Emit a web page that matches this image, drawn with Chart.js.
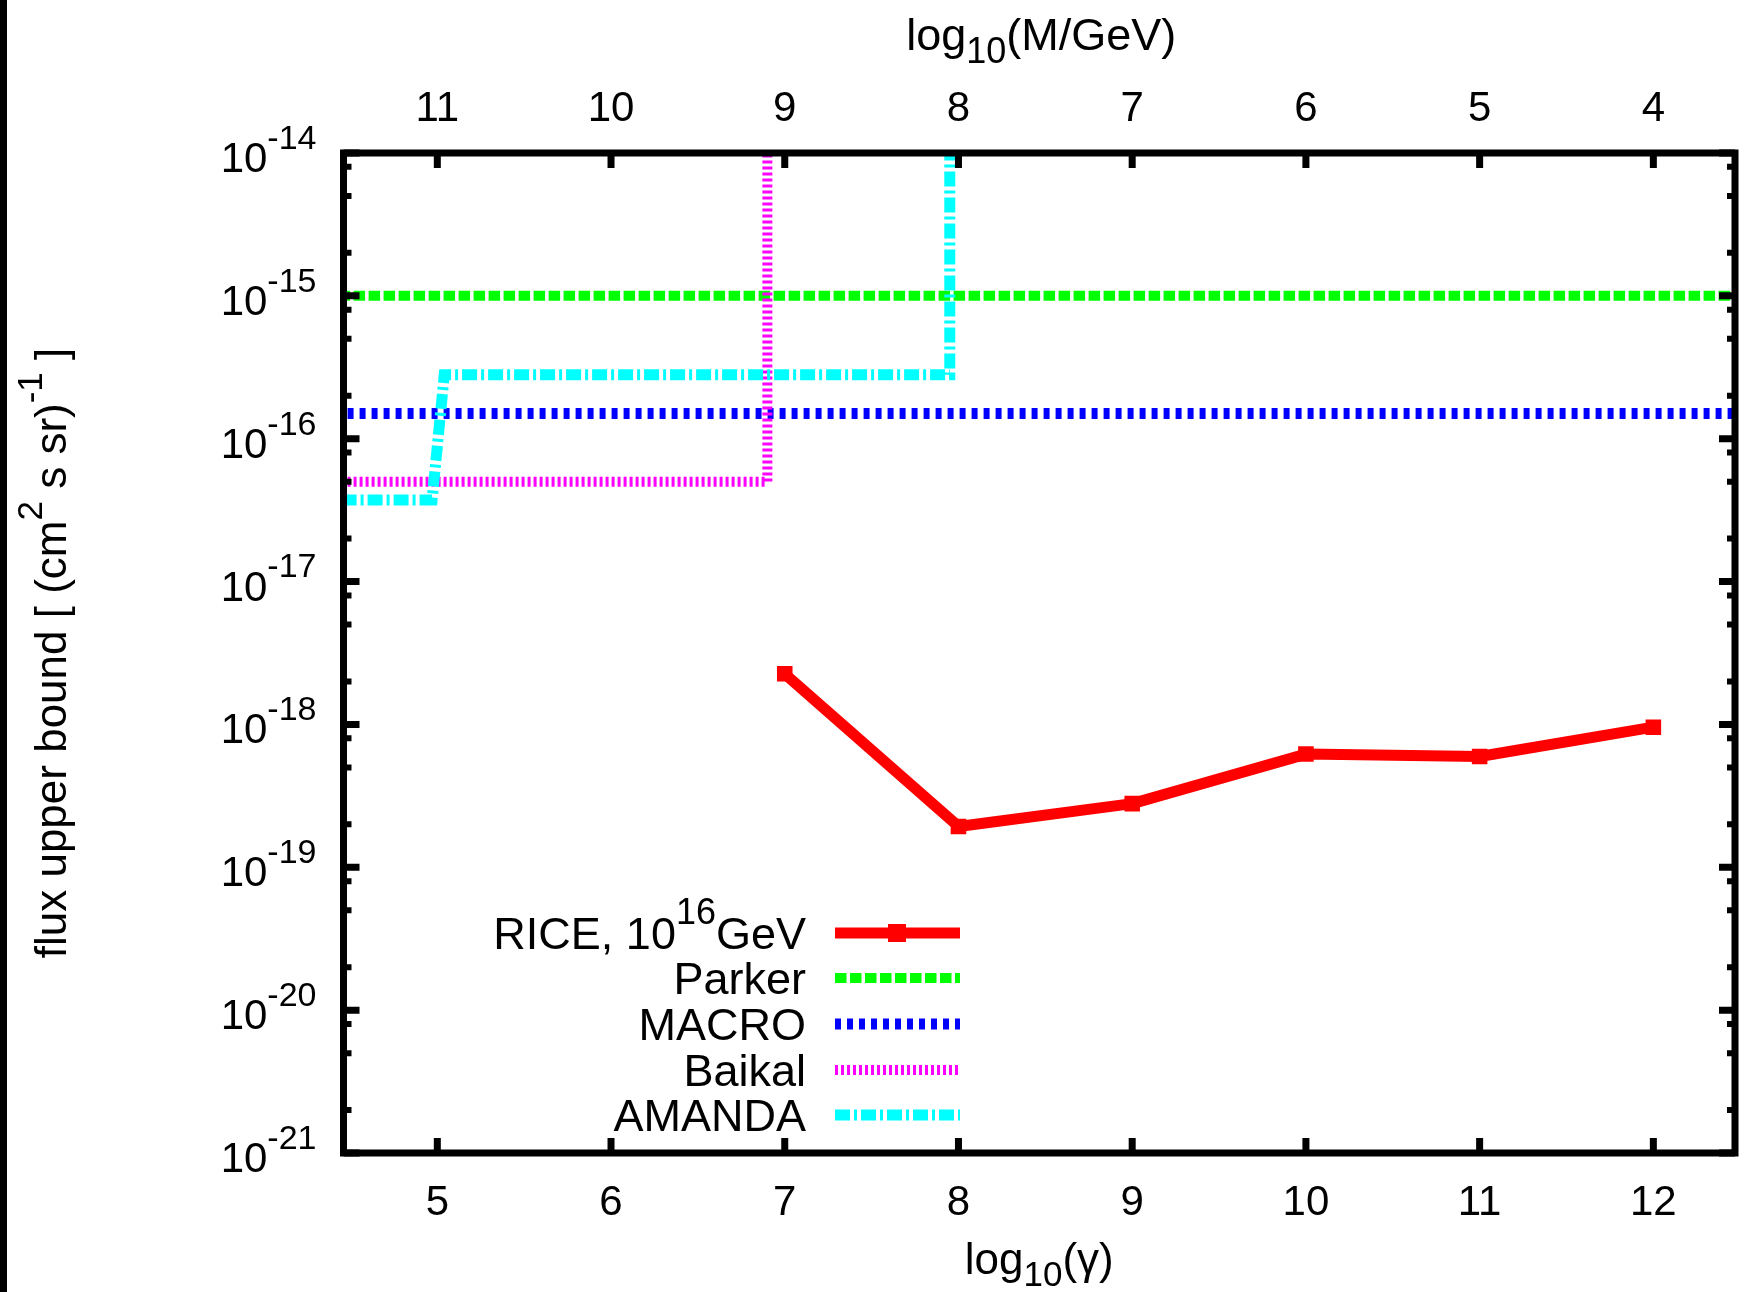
<!DOCTYPE html>
<html>
<head>
<meta charset="utf-8">
<title>Monopole flux limits</title>
<script src="https://cdn.jsdelivr.net/npm/chart.js@4.4.1/dist/chart.umd.min.js"></script>
<style>
    html, body { margin: 0; padding: 0; background: #ffffff; }
    #grafico_limites { display: block; }
</style>
</head>
<body>
<canvas id="grafico_limites" width="1746" height="1292" style="width:1746px;height:1292px"></canvas>
<script>
// Dados (eixo x = log10(gamma), eixo y = fluxo)
const gammaTicks = [5, 6, 7, 8, 9, 10, 11, 12];
const massaTicks = [11, 10, 9, 8, 7, 6, 5, 4];
const decadasFluxo = [-21, -20, -19, -18, -17, -16, -15, -14];
const mantissasMenores = [2, 5, 8];

const riceGamma = [7, 8, 9, 10, 11, 12];
const riceFluxo = [2.26e-18, 1.93e-19, 2.79e-19, 6.2e-19, 5.96e-19, 9.57e-19];

const parkerGamma = [4, 13];
const parkerFluxo = [1e-15, 1e-15];

const macroGamma = [4, 13];
const macroFluxo = [1.5e-16, 1.5e-16];

const baikalGamma = [4, 6.9, 6.9];
const baikalFluxo = [5e-17, 5e-17, 1e-14];

const amandaGamma = [4, 4.97, 5.04, 7.95, 7.95];
const amandaFluxo = [3.73e-17, 3.73e-17, 2.8e-16, 2.8e-16, 1e-14];

const rotulos = ['RICE, 10^{16}GeV', 'Parker', 'MACRO', 'Baikal', 'AMANDA'];

document.addEventListener('DOMContentLoaded', () => {

    const FONTE = '"Liberation Sans", Arial, sans-serif';

    // --- TEXTO COM SOBRESCRITO / SUBSCRITO (estilo gnuplot) ---
    function quebrarTexto(str) {
        const partes = [];
        const re = /([\^_])\{([^}]*)\}/g;
        let ultimo = 0, m;
        while ((m = re.exec(str)) !== null) {
            if (m.index > ultimo) partes.push({ t: str.slice(ultimo, m.index), k: 'n' });
            partes.push({ t: m[2], k: m[1] === '^' ? 'sup' : 'sub' });
            ultimo = re.lastIndex;
        }
        if (ultimo < str.length) partes.push({ t: str.slice(ultimo), k: 'n' });
        return partes;
    }

    function escreverRico(ctx, str, x, y, alinhamento, tam) {
        const partes = quebrarTexto(str);
        const fonteDe = k => (k === 'n' ? tam : Math.round(tam * 0.8)) + 'px ' + FONTE;
        let largura = 0;
        partes.forEach(p => { ctx.font = fonteDe(p.k); p.w = ctx.measureText(p.t).width; largura += p.w; });
        let cx = x;
        if (alinhamento === 'center') cx = x - largura / 2;
        if (alinhamento === 'right') cx = x - largura;
        ctx.textAlign = 'left';
        ctx.textBaseline = 'alphabetic';
        partes.forEach(p => {
            ctx.font = fonteDe(p.k);
            let dy = 0;
            if (p.k === 'sup') dy = -tam * 0.55;
            if (p.k === 'sub') dy = tam * 0.28;
            ctx.fillText(p.t, cx, y + dy);
            cx += p.w;
        });
    }

    function pontos(xs, ys) {
        return xs.map((x, i) => ({ x: x, y: ys[i] }));
    }

    // --- PLUGIN: fundo, moldura, marcas e rótulos ---
    const molduraGnuplot = {
        id: 'molduraGnuplot',
        beforeDraw(chart) {
            const ctx = chart.ctx;
            ctx.save();
            ctx.fillStyle = '#ffffff';
            ctx.fillRect(0, 0, chart.width, chart.height);
            ctx.fillStyle = '#000000';
            ctx.fillRect(0, 0, 7, chart.height);
            ctx.restore();
        },
        afterDatasetsDraw(chart) {
            const ctx = chart.ctx;
            const area = chart.chartArea;
            const xs = chart.scales.x;
            const ys = chart.scales.y;
            ctx.save();
            ctx.strokeStyle = '#000000';
            ctx.fillStyle = '#000000';
            ctx.lineCap = 'butt';

            // marcas do eixo x (embaixo e em cima)
            ctx.lineWidth = 7;
            gammaTicks.forEach(g => {
                const px = xs.getPixelForValue(g);
                ctx.beginPath();
                ctx.moveTo(px, area.bottom); ctx.lineTo(px, area.bottom - 15);
                ctx.moveTo(px, area.top); ctx.lineTo(px, area.top + 15);
                ctx.stroke();
            });

            // marcas do eixo y (esquerda e direita)
            decadasFluxo.forEach(d => {
                const py = ys.getPixelForValue(Math.pow(10, d));
                ctx.lineWidth = 7;
                ctx.beginPath();
                ctx.moveTo(area.left, py); ctx.lineTo(area.left + 16, py);
                ctx.moveTo(area.right, py); ctx.lineTo(area.right - 16, py);
                ctx.stroke();
                if (d === decadasFluxo[decadasFluxo.length - 1]) return;
                ctx.lineWidth = 6;
                mantissasMenores.forEach(m => {
                    const pm = ys.getPixelForValue(m * Math.pow(10, d));
                    ctx.beginPath();
                    ctx.moveTo(area.left, pm); ctx.lineTo(area.left + 8, pm);
                    ctx.moveTo(area.right, pm); ctx.lineTo(area.right - 8, pm);
                    ctx.stroke();
                });
            });

            // moldura
            ctx.lineWidth = 7;
            ctx.strokeRect(area.left, area.top, area.right - area.left, area.bottom - area.top);

            // rótulos dos eixos
            gammaTicks.forEach(g => {
                escreverRico(ctx, String(g), xs.getPixelForValue(g), area.bottom + 62, 'center', 42);
            });
            massaTicks.forEach(m => {
                escreverRico(ctx, String(m), xs.getPixelForValue(16 - m), area.top - 32, 'center', 42);
            });
            decadasFluxo.forEach(d => {
                const py = ys.getPixelForValue(Math.pow(10, d));
                escreverRico(ctx, '10^{' + d + '}', area.left - 27, py + 19, 'right', 42);
            });

            const centroX = (area.left + area.right) / 2;
            const centroY = (area.top + area.bottom) / 2;
            escreverRico(ctx, 'log_{10}(M/GeV)', centroX + 2, 50, 'center', 45);
            escreverRico(ctx, 'log_{10}(\u03B3)', centroX, 1274, 'center', 44);

            ctx.save();
            ctx.translate(66, centroY);
            ctx.rotate(-Math.PI / 2);
            escreverRico(ctx, 'flux upper bound [ (cm^{2} s sr)^{-1} ]', 0, 0, 'center', 44);
            ctx.restore();

            // --- LEGENDA (texto à direita, amostra da linha) ---
            const linhasY = [933, 978, 1024, 1070, 1115];
            chart.data.datasets.forEach((ds, i) => {
                const ly = linhasY[i];
                ctx.fillStyle = '#000000';
                escreverRico(ctx, ds.label, 806, ly + 16, 'right', 45);
                ctx.strokeStyle = ds.borderColor;
                ctx.lineWidth = ds.borderWidth;
                ctx.setLineDash(ds.borderDash || []);
                ctx.beginPath();
                ctx.moveTo(835, ly);
                ctx.lineTo(960, ly);
                ctx.stroke();
                ctx.setLineDash([]);
                if (ds.pointRadius > 0) {
                    ctx.fillStyle = ds.borderColor;
                    ctx.fillRect(888, ly - 9, 18, 18);
                }
            });
            ctx.restore();
        }
    };

    // --- FUNÇÃO PARA CARREGAR O GRÁFICO ---
    function carregarGrafico() {
        const ctxGrafico = document.getElementById('grafico_limites').getContext('2d');
        new Chart(ctxGrafico, {
            type: 'line',
            data: {
                datasets: [
                    {
                        label: rotulos[0],
                        data: pontos(riceGamma, riceFluxo),
                        borderColor: '#ff0000',
                        backgroundColor: '#ff0000',
                        borderWidth: 11,
                        borderJoinStyle: 'round',
                        pointStyle: 'rect',
                        pointRadius: 11,
                        pointBorderWidth: 0,
                        pointBackgroundColor: '#ff0000',
                        order: 5
                    },
                    {
                        label: rotulos[1],
                        data: pontos(parkerGamma, parkerFluxo),
                        borderColor: '#00ff00',
                        borderWidth: 10,
                        borderDash: [11.5, 3.5],
                        pointRadius: 0,
                        order: 4
                    },
                    {
                        label: rotulos[2],
                        data: pontos(macroGamma, macroFluxo),
                        borderColor: '#0000ff',
                        borderWidth: 11,
                        borderDash: [6, 6],
                        pointRadius: 0,
                        order: 3
                    },
                    {
                        label: rotulos[3],
                        data: pontos(baikalGamma, baikalFluxo),
                        borderColor: '#ff00ff',
                        borderWidth: 10,
                        borderDash: [3, 3],
                        pointRadius: 0,
                        order: 2
                    },
                    {
                        label: rotulos[4],
                        data: pontos(amandaGamma, amandaFluxo),
                        borderColor: '#00ffff',
                        borderWidth: 11,
                        borderDash: [15, 4, 3, 4],
                        pointRadius: 0,
                        order: 1
                    }
                ]
            },
            options: {
                responsive: false,
                devicePixelRatio: 1,
                animation: false,
                layout: { padding: { left: 343.5, right: 4.5, top: 153, bottom: 139 } },
                scales: {
                    x: { type: 'linear', min: 4.46, max: 12.47, display: false },
                    y: { type: 'logarithmic', min: 1e-21, max: 1e-14, display: false }
                },
                plugins: { legend: { display: false }, tooltip: { enabled: false } }
            },
            plugins: [molduraGnuplot]
        });
    }

    // --- EXECUÇÃO ---
    carregarGrafico();
});
</script>
</body>
</html>
